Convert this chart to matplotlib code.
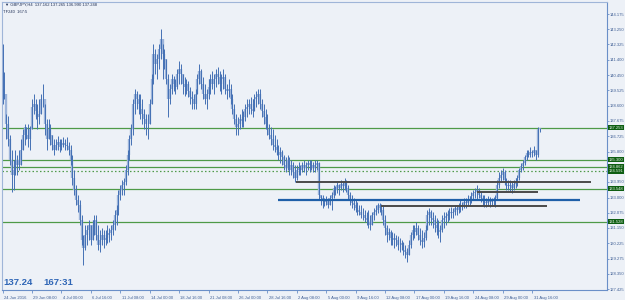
import matplotlib
matplotlib.use("Agg")
import matplotlib.pyplot as plt
import numpy as np

# ---------------- data (GBPJPY H4) ----------------
highs = [
142.34,140.63,138.06,137.94,136.84,135.92,135.31,135.92,135.62,135.92,
136.54,137.15,137.45,137.27,137.45,137.33,138.98,139.29,138.98,138.67,
138.98,139.29,139.90,138.67,137.76,137.76,137.45,136.84,136.54,136.54,
136.72,136.54,136.54,136.66,136.54,136.66,136.41,136.23,135.62,134.70,
133.79,133.17,132.87,131.95,130.73,131.34,131.34,131.65,131.34,131.65,
131.95,131.95,131.34,131.04,131.16,131.04,131.04,131.34,131.16,131.34,
131.65,132.26,132.57,133.48,133.79,134.09,134.21,135.01,135.92,136.84,
137.45,138.98,139.59,139.47,139.29,139.29,138.98,138.37,138.06,138.06,
138.98,140.51,142.34,142.04,141.73,142.34,143.26,142.34,142.04,141.42,
140.51,139.90,140.51,140.39,140.20,140.81,141.30,141.12,140.51,140.32,
140.20,140.08,139.71,139.47,139.29,139.59,140.51,141.12,140.81,140.32,
139.90,139.59,140.20,140.51,140.69,140.51,140.81,140.93,140.69,140.51,
140.81,140.51,139.90,140.20,139.90,139.29,138.67,138.06,137.88,138.06,
138.37,138.25,138.67,138.98,138.98,139.10,138.98,139.29,139.47,139.59,
139.59,138.98,138.67,138.37,138.06,137.45,137.27,137.15,136.84,136.54,
136.23,136.05,135.92,135.62,135.44,135.62,135.44,135.31,135.19,135.01,
135.01,135.19,135.01,135.19,135.31,135.19,135.31,135.31,135.31,135.19,
135.31,135.31,135.19,133.17,133.17,132.99,133.11,132.99,133.17,133.36,
133.79,133.72,133.97,133.85,134.09,133.97,134.21,134.09,133.79,133.36,
133.17,132.99,132.87,132.75,132.57,132.57,132.38,132.26,132.14,132.26,
131.95,132.14,132.38,132.57,132.69,132.69,132.63,132.57,131.95,131.34,
131.16,131.04,130.92,130.85,130.73,130.67,130.55,130.43,130.30,130.12,
129.94,130.43,130.92,131.34,131.34,131.53,131.34,131.16,131.04,130.92,
131.34,132.26,132.38,132.26,132.14,131.95,131.77,131.65,131.34,131.95,
132.14,132.14,132.26,132.38,132.44,132.38,132.57,132.57,132.69,132.87,
132.75,132.99,132.99,133.17,133.11,133.36,133.48,133.60,133.79,133.60,
133.36,133.17,133.17,132.99,133.11,133.05,132.99,133.05,133.17,134.09,
134.58,134.70,134.82,134.70,134.21,134.09,134.09,133.97,134.09,134.21,
134.40,134.82,135.13,135.31,135.62,135.92,135.92,136.05,135.92,136.11,
135.92,137.27,137.265]
lows = [
138.67,138.98,136.54,136.11,135.01,133.36,133.48,134.40,134.40,134.70,
135.01,135.92,136.23,136.54,136.05,135.92,137.15,138.06,137.76,137.15,
137.45,138.06,138.49,136.84,135.92,136.54,136.23,135.92,135.62,135.92,
135.92,135.80,135.92,136.05,135.92,135.92,135.62,135.01,133.79,133.17,
132.57,132.14,131.34,130.12,128.90,129.82,130.12,130.43,130.12,130.43,
130.73,130.43,129.82,129.69,130.12,129.94,130.12,130.24,130.30,130.43,
130.73,131.04,131.34,131.95,132.87,133.17,133.17,133.79,134.40,135.31,
136.23,136.84,138.06,138.37,138.06,137.76,137.45,137.15,136.84,136.54,
137.45,138.67,139.90,140.51,140.20,140.81,141.42,140.20,140.81,139.90,
137.88,138.67,139.29,139.47,139.29,139.59,139.90,139.90,139.29,139.16,
139.29,139.10,138.67,138.37,138.37,138.37,139.29,139.90,139.59,138.98,
138.67,138.37,138.98,139.29,139.59,139.29,139.71,139.90,139.47,139.29,
139.59,139.29,138.98,139.10,138.67,138.06,137.45,136.84,136.84,137.15,
137.27,137.27,137.64,137.88,138.06,138.06,137.88,138.25,138.49,138.67,
138.37,137.88,137.45,137.15,136.84,136.54,136.23,135.92,135.80,135.62,
135.31,135.13,135.01,134.70,134.58,134.70,134.40,134.40,134.21,133.97,
134.09,134.40,134.40,134.58,134.58,134.40,134.70,134.58,134.70,134.58,
134.58,134.70,132.87,132.57,132.38,132.50,132.57,132.38,132.57,132.26,
132.99,133.17,133.30,133.17,133.48,133.36,133.48,133.36,132.87,132.57,
132.38,132.26,132.14,131.95,131.95,131.77,131.65,131.53,131.34,131.16,
131.04,131.34,131.65,131.95,132.08,132.14,131.95,131.34,130.73,130.30,
130.43,130.12,130.12,129.94,130.06,129.82,129.69,129.82,129.51,129.33,
129.08,129.51,129.94,130.43,130.55,130.73,130.43,130.12,129.94,130.00,
130.43,131.04,131.34,131.34,131.16,130.92,130.73,130.55,130.30,130.92,
131.16,131.34,131.53,131.65,131.77,131.77,131.95,131.95,132.08,132.14,
132.26,132.38,132.38,132.57,132.50,132.69,132.87,132.99,132.87,132.99,
132.75,132.57,132.44,132.44,132.50,132.44,132.50,132.57,132.44,132.87,
133.60,133.97,134.09,133.79,133.48,133.48,133.42,133.30,133.48,133.60,
133.72,134.09,134.58,134.70,135.01,135.31,135.44,135.44,135.50,135.56,
135.31,135.44,136.990]
closes = [
138.98,139.29,137.45,136.54,135.31,134.40,134.70,135.01,135.31,135.01,
135.92,136.84,137.27,136.84,136.54,137.15,138.49,138.67,138.25,137.88,
138.06,138.98,138.98,137.45,136.54,137.15,136.84,136.23,135.92,136.23,
136.41,136.05,136.23,136.35,136.23,136.17,135.92,135.31,134.21,133.48,
132.87,132.57,131.65,130.43,129.94,130.73,131.04,131.34,130.43,131.34,
131.65,130.73,130.12,130.43,130.73,130.43,130.55,130.73,130.85,131.04,
131.34,131.95,132.26,133.17,133.48,133.79,133.97,134.70,135.62,136.54,
137.15,138.67,139.29,138.98,138.67,138.37,138.06,137.76,137.45,137.45,
138.67,140.20,141.73,141.12,141.42,142.04,142.65,141.73,141.42,140.20,
138.98,139.59,140.20,139.90,139.71,140.51,140.81,140.51,139.90,139.71,
139.90,139.47,139.10,138.98,138.67,139.29,140.20,140.69,139.90,139.29,
138.98,139.29,139.71,140.20,139.90,140.20,140.51,140.32,139.90,140.20,
140.32,139.59,139.47,139.59,138.98,138.37,137.76,137.27,137.45,137.76,
137.64,137.88,138.37,138.49,138.67,138.37,138.25,138.98,139.10,139.29,
138.67,138.25,137.88,137.45,137.15,136.84,136.54,136.23,136.05,135.92,
135.62,135.80,135.44,135.01,134.82,135.31,134.70,135.01,134.58,134.21,
134.70,134.82,134.70,135.01,134.82,135.01,135.13,135.01,135.01,134.82,
135.01,135.13,133.17,132.99,132.87,132.75,132.87,132.57,132.99,133.17,
133.60,133.48,133.79,133.60,133.85,133.72,133.97,133.60,133.17,132.87,
132.69,132.57,132.38,132.26,132.14,131.95,131.95,131.77,131.65,131.53,
131.34,131.95,132.14,132.26,132.57,132.38,132.26,131.65,131.16,130.73,
130.92,130.55,130.43,130.55,130.43,130.12,130.12,130.24,129.82,129.69,
129.51,130.12,130.73,131.04,130.92,131.16,130.73,130.43,130.30,130.55,
131.04,131.95,132.14,131.77,131.65,131.34,131.16,130.92,131.04,131.65,
131.77,131.89,132.02,132.14,132.08,132.14,132.38,132.26,132.44,132.57,
132.50,132.75,132.69,132.87,132.87,133.11,133.30,133.36,133.48,133.17,
132.99,132.87,132.75,132.69,132.87,132.75,132.81,132.87,132.99,133.79,
134.21,134.40,134.58,134.09,133.79,133.72,133.79,133.60,133.85,133.97,
134.21,134.70,134.95,135.13,135.44,135.74,135.62,135.80,135.74,135.92,
135.62,137.162,137.248]
first_open = 139.60

xtick_labels = ["24 Jun 2016", "29 Jun 08:00", "4 Jul 00:00", "6 Jul 16:00",
                "11 Jul 08:00", "14 Jul 00:00", "18 Jul 16:00", "21 Jul 08:00",
                "26 Jul 00:00", "28 Jul 16:00", "2 Aug 08:00", "5 Aug 00:00",
                "9 Aug 16:00", "12 Aug 08:00", "17 Aug 00:00", "19 Aug 16:00",
                "24 Aug 08:00", "29 Aug 00:00", "31 Aug 16:00"]
bars_per_label = 16

ytick_values = [144.175, 143.250, 142.325, 141.400, 140.450, 139.525, 138.600,
                137.675, 136.725, 135.800, 134.850, 133.950, 133.000, 132.075,
                131.150, 130.225, 129.275, 128.350, 127.425]

# green horizontal levels (price, dotted?)
green_levels = [137.253, 135.300, 134.862, 134.591, 133.548, 131.528]
green_dotted = [False, False, False, True, False, False]
# trend/level segments: (price, start bar, end bar)
gray_levels = [133.95, 133.32, 132.50]
gray_start = [159.5, 258.0, 206.0]
gray_end = [320.0, 291.0, 296.0]
blue_level = 132.85
blue_start = 150.0
blue_end = 314.0

header = "\u25bc GBPJPY,H4  137.162 137.265 136.990 137.248"
header2 = "TF240  167:5"
big_price = "137.24"
big_timer = "167:31"

# ---------------- drawing ----------------
BG = "#EDF1F7"
AX = "#6A8FC8"
TXT = "#3F5F95"
GREEN = "#4E9A48"
FONT = "Liberation Sans"
FS = 3.0

fig = plt.figure(figsize=(6.25, 3.0), dpi=100, facecolor=BG)
ax = fig.add_axes([2/625, 10/300, 605/625, 288/300])
ax.set_facecolor(BG)

n = len(closes)
idx = np.arange(n)
opens = np.array([first_open] + closes[:-1])
cl = np.array(closes)
hi = np.array(highs)
lo = np.array(lows)

ax.vlines(idx, np.minimum(opens, cl), np.maximum(opens, cl), color="#9DB4DA", lw=1.7, zorder=3)
ax.vlines(idx, lo, hi, color="#4470B4", lw=0.7, zorder=4)

for p, d in zip(green_levels, green_dotted):
    ax.axhline(p, color=GREEN, lw=0.9, ls=(0, (1.2, 1.8)) if d else "-", zorder=2)
for p, s, e in zip(gray_levels, gray_start, gray_end):
    ax.hlines(p, s, e, color="#4A4A4A", lw=1.4, zorder=5)
ax.hlines(blue_level, blue_start, blue_end, color="#1F5FA8", lw=1.6, zorder=5)

ax.set_xlim(-0.3, 328.7)
ax.set_ylim(127.37, 144.91)

for s in ["top", "left"]:
    ax.spines[s].set_color("#9FB5D8")
    ax.spines[s].set_linewidth(0.8)
for s in ["right", "bottom"]:
    ax.spines[s].set_color(AX)
    ax.spines[s].set_linewidth(0.8)

ax.yaxis.tick_right()
ax.set_yticks(ytick_values)
ax.set_yticklabels([f"{v:.3f}" for v in ytick_values], family=FONT)
ax.tick_params(axis="y", direction="out", length=1.5, width=0.6, colors=AX,
               labelsize=FS, labelcolor=TXT, pad=0.8)
xt = [i * bars_per_label for i in range(len(xtick_labels))]
ax.set_xticks(xt)
ax.set_xticklabels([])
ax.tick_params(axis="x", direction="out", length=2.5, width=0.6, colors=AX)
for x, lab in zip(xt, xtick_labels):
    ax.annotate(lab, xy=(x, 0), xycoords=("data", "axes fraction"),
                xytext=(1.0, -4.0), textcoords="offset points",
                fontsize=FS, color=TXT, ha="left", va="top", family=FONT)

# price boxes on the right axis
for p in green_levels:
    ax.annotate(f"{p:.3f}", xy=(1, p), xycoords=("axes fraction", "data"),
                xytext=(1.2, 0), textcoords="offset points",
                fontsize=FS, color="#E8F2E8", ha="left", va="center", zorder=10,
                family=FONT,
                bbox=dict(boxstyle="square,pad=0.12", fc="#0E5E12", ec="none"),
                annotation_clip=False)

fig.text(5/625, 1 - 5/300, header, fontsize=FS, color="#1E2E55", ha="left", va="center",
         family=[FONT, "DejaVu Sans"])
fig.text(3/625, 1 - 12/300, header2, fontsize=FS, color="#1E2E55", ha="left", va="center",
         family=FONT)
fig.text(3/625, 1 - 285/300, big_price, fontsize=6.8, fontweight="bold", color="#2F66B6",
         family=FONT, ha="left", va="baseline")
fig.text(43/625, 1 - 285/300, big_timer, fontsize=6.8, fontweight="bold", color="#2F66B6",
         family=FONT, ha="left", va="baseline")

fig.savefig("out.png", dpi=100, facecolor=BG)
